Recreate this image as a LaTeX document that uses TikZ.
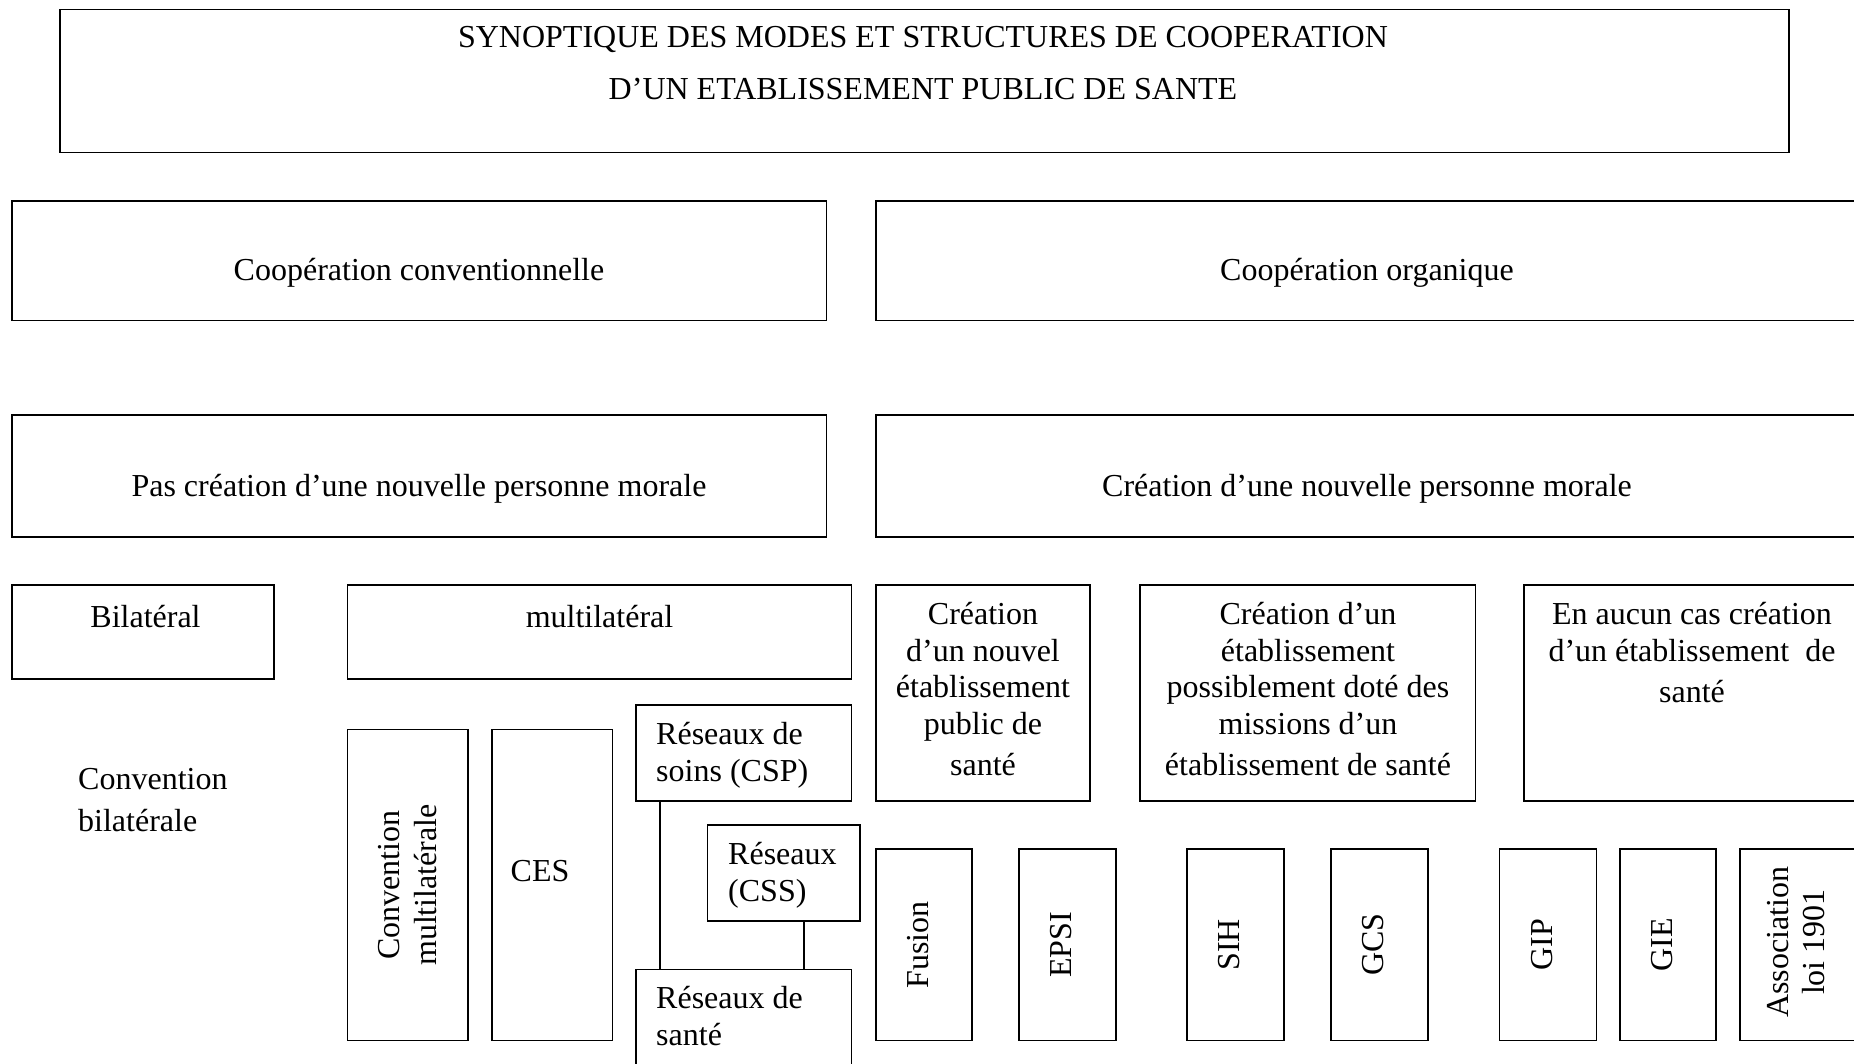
\documentclass[tikz,border=0pt]{standalone}
\usepackage{fontspec}
\setmainfont{Liberation Serif}
\begin{document}
\begin{tikzpicture}[x=1pt,y=-1pt,
  frame/.style={draw, line width=1.8pt, inner sep=0pt, outer sep=0pt},
  txt/.style={font=\fontsize{32}{36.6}\selectfont, inner sep=0pt, align=center},
  ltxt/.style={txt, align=left, anchor=north west},
  vtxt/.style={txt, rotate=90},
  stxt/.style={vtxt, yshift=6pt},
  link/.style={line width=1.8pt}]
\useasboundingbox (0,0) rectangle (1854,1063);
% rectangular frame from its two corners: name, x1, y1, x2, y2
\newcommand\mkbox[5]{\node[frame, minimum width={(#4-#2)*1pt}, minimum height={(#5-#3)*1pt}]
  (#1) at ({(#2+#4)/2},{(#3+#5)/2}) {};}

% title
\mkbox{title}{60}{9.5}{1789}{152.5}
\node[txt, anchor=base] (t1) at (923,47) {SYNOPTIQUE DES MODES ET STRUCTURES DE COOPERATION};
\node[txt, anchor=base] (t2) at (923,99) {D’UN ETABLISSEMENT PUBLIC DE SANTE};

% first level
\mkbox{conv}{12}{201}{826.5}{320.5}
\node[txt, anchor=base] (convt) at (419,280) {Coopération conventionnelle};
\mkbox{orga}{876}{201}{1860}{320.5}
\node[txt, anchor=base] (orgat) at (1367,280) {Coopération organique};

% second level
\mkbox{pas}{12}{415}{826.5}{537}
\node[txt, anchor=base] (past) at (419,496) {Pas création d’une nouvelle personne morale};
\mkbox{cre}{876}{415}{1860}{537}
\node[txt, anchor=base] (cret) at (1367,496) {Création d’une nouvelle personne morale};

% third level
\mkbox{bil}{12}{585}{274}{679}
\node[txt, anchor=base] (bilt) at (145.5,627) {Bilatéral};
\mkbox{mul}{347.5}{585}{851.5}{679}
\node[txt, anchor=base] (mult) at (599.5,627) {multilatéral};
\mkbox{eps}{876}{585}{1090}{801}
\node[txt, anchor=north] (epst) at (983,602) {Création\\d’un nouvel\\établissement\\public de\\[4.5pt]santé};
\mkbox{ets}{1140}{585}{1475.5}{801}
\node[txt, anchor=north] (etst) at (1308,602) {Création d’un\\établissement\\possiblement doté des\\missions d’un\\[4.5pt]établissement de santé};
\mkbox{auc}{1524}{585}{1862}{801}
\node[txt, anchor=north] (auct) at (1692,602) {En aucun cas création\\d’un établissement~ de\\[4.5pt]santé};

% conventions
\node[ltxt] (cbil) at (78,768) {Convention\\[5pt]bilatérale};
\mkbox{cmul}{347.5}{729.5}{468}{1040.5}
\node[vtxt] (cmult) at (cmul.center) {Convention\\multilatérale};
\mkbox{ces}{492}{729.5}{612.5}{1040.5}
\node[txt, anchor=base] (cest) at (540,881.5) {CES};

% networks
\mkbox{csp}{636}{705}{851.5}{801}
\node[ltxt] (cspt) at (656,722) {Réseaux de\\soins (CSP)};
\mkbox{css}{707.5}{825}{860}{921}
\node[ltxt] (csst) at (728,842) {Réseaux\\(CSS)};
\mkbox{san}{636}{969.5}{851.5}{1075}
\node[ltxt] (sant) at (656,986) {Réseaux de\\santé};
\coordinate (xa) at (660,0);
\coordinate (xb) at (804,0);
\draw[link] (csp.south -| xa) -- (san.north -| xa);
\draw[link] (css.south -| xb) -- (san.north -| xb);

% legal structures
\mkbox{fus}{876}{849}{972}{1040.5}
\node[stxt] (fust) at (fus.center) {Fusion};
\mkbox{epsi}{1019}{849}{1116}{1040.5}
\node[stxt] (epsit) at (epsi.center) {EPSI};
\mkbox{sih}{1187}{849}{1284}{1040.5}
\node[stxt] (siht) at (sih.center) {SIH};
\mkbox{gcs}{1331}{849}{1428}{1040.5}
\node[stxt] (gcst) at (gcs.center) {GCS};
\mkbox{gip}{1499.5}{849}{1596.5}{1040.5}
\node[stxt] (gipt) at (gip.center) {GIP};
\mkbox{gie}{1620}{849}{1716}{1040.5}
\node[stxt] (giet) at (gie.center) {GIE};
\mkbox{asso}{1740}{849}{1856}{1040.5}
\node[vtxt] (assot) at (1796,942) {Association\\loi 1901};
\end{tikzpicture}
\end{document}
